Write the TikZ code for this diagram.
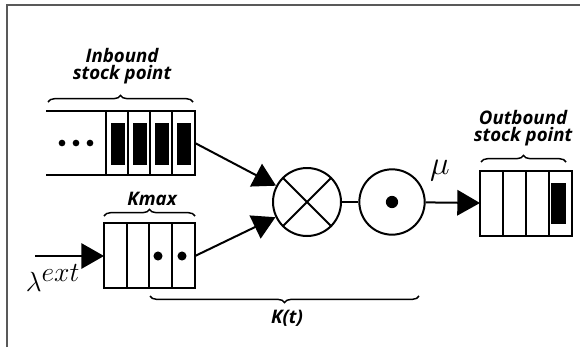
\documentclass[tikz,border=0pt]{standalone}
\usepackage{fontspec}
\setsansfont{Open Sans}
\usetikzlibrary{arrows.meta,decorations.pathreplacing}

\tikzset{
  lbl/.style={font=\sffamily\bfseries\itshape\fontsize{14}{13}\selectfont, align=center},
  qline/.style={line width=2.2pt},
  flow/.style={line width=1.5pt, -{Triangle[length=17pt,width=19pt]}},
  brc/.style={decorate, decoration={brace, amplitude=5pt}, line width=1.1pt},
}

\begin{document}
\begin{tikzpicture}[x=0.75pt, y=-0.75pt]
\useasboundingbox (0,0) rectangle (580,347);
\draw[line width=1.5pt, black!65] (7,347) -- (7,5) -- (580,5);

% inbound stock point
\draw[qline] (46,111) -- (195,111) -- (195,175) -- (46,175);
\foreach \x in {106,128,150,172}{
  \draw[qline] (\x,111) -- (\x,175);
  \fill (\x+4.5,123) rectangle (\x+18.5,165);
}
\foreach \x in {62,76,90} \fill (\x,143) circle (2.5pt);
\draw[brc] (48,102) -- (193,102);
\node[lbl] (inlbl) at (122,66) {Inbound\\stock point};

% buffer of size Kmax
\draw[qline] (104,223) rectangle (195,288);
\foreach \x in {127,149,172} \draw[qline] (\x,223) -- (\x,288);
\foreach \x in {158,182} \fill (\x,256) circle (3.4pt);
\draw[brc] (104,216) -- (195,216);
\node[lbl] (kmax) at (152,199) {Kmax};

\coordinate (src) at (35,256);
\coordinate (kin) at (104,256);
\coordinate (inq) at (195,143);
\coordinate (kq) at (195,256);
\coordinate (outq) at (480,203);

% assembly and server
\node (mix) at (307,202) [circle, draw, line width=1.5pt, minimum size=51pt, inner sep=0pt]{};
\draw[line width=1.5pt] (mix.north west) -- (mix.south east) (mix.north east) -- (mix.south west);
\node (serv) at (392,202) [circle, draw, line width=1.5pt, minimum size=49pt, inner sep=0pt]{};
\fill (serv) circle (4.6pt);
\draw[line width=1.5pt] (mix) -- (serv);

\draw[flow] (src) -- (kin);
\draw[flow] (inq) -- (mix);
\draw[flow] (kq) -- (mix);
\draw[flow] (serv) -- (outq);

% outbound stock point
\draw[qline] (480,171) rectangle (572,236);
\foreach \x in {503,526,549} \draw[qline] (\x,171) -- (\x,236);
\fill (551,183) rectangle (566,224);
\draw[brc] (481,162) -- (566,162);
\node[lbl] (outlbl) at (523,128) {Outbound\\stock point};

\draw[brc, decoration={mirror}] (150,296) -- (419,296);
\node[lbl] (kt) at (287,318) {K(t)};

\node (lam) at (53,278) {\fontsize{22}{24}\selectfont$\lambda^{\textstyle ext}$};
\node (mu) at (440,171) {\fontsize{24}{26}\selectfont$\mu$};
\end{tikzpicture}
\end{document}
